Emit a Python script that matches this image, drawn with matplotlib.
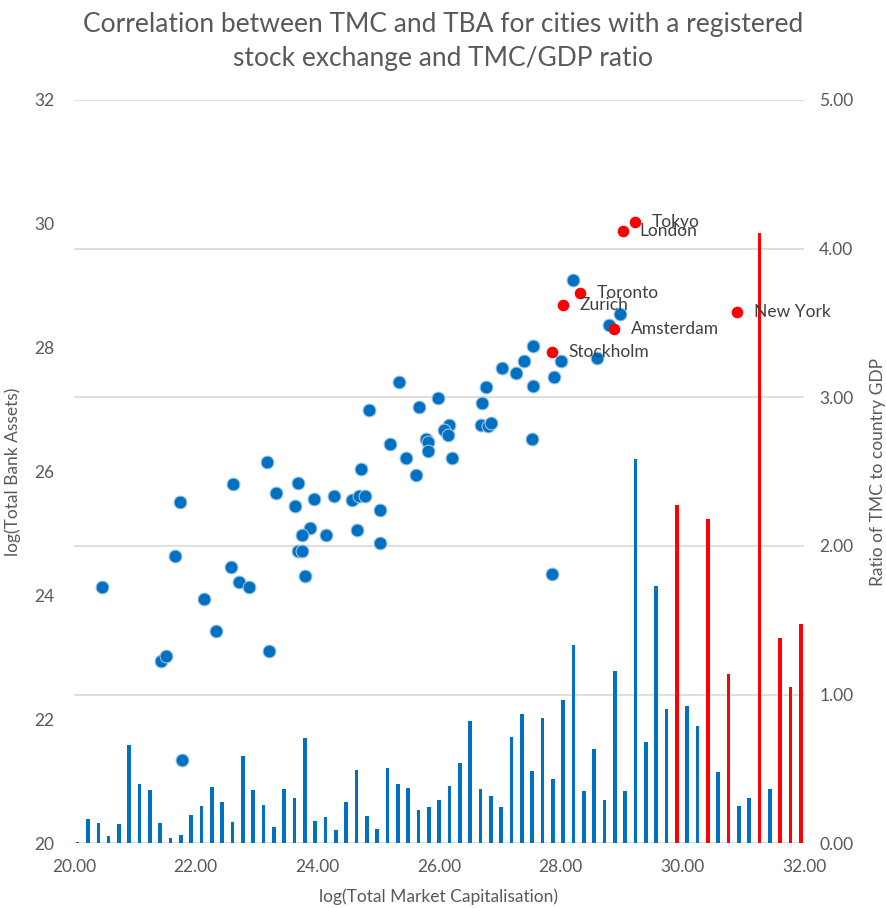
import matplotlib
matplotlib.use("Agg")
import matplotlib.pyplot as plt

plt.rcParams['font.family'] = ['Lato', 'DejaVu Sans']

# scatter: log(TMC) vs log(TBA)
blue_tmc = [28.21, 28.97, 28.80, 27.54, 28.01, 28.60, 27.39, 27.03, 27.27, 27.89,
            27.54, 26.78, 25.35, 25.98, 26.70, 24.85, 25.67, 26.16, 26.08, 26.15,
            25.79, 25.82, 25.19, 25.82, 25.46, 26.21, 24.72, 25.63, 26.69, 26.81,
            26.86, 27.53, 23.17, 22.61, 23.68, 21.75, 23.32, 23.64, 23.95, 24.27,
            24.57, 24.69, 24.79, 25.03, 23.88, 23.75, 24.15, 24.66, 25.03, 23.68,
            23.75, 21.66, 22.58, 22.72, 22.87, 23.80, 20.46, 22.13, 22.34, 23.21,
            21.43, 21.51, 21.77, 27.86]
blue_tba = [29.09, 28.54, 28.36, 28.03, 27.79, 27.83, 27.79, 27.68, 27.59, 27.52,
            27.38, 27.37, 27.44, 27.19, 27.11, 27.00, 27.05, 26.76, 26.67, 26.59,
            26.53, 26.48, 26.45, 26.33, 26.22, 26.22, 26.05, 25.95, 26.76, 26.74,
            26.78, 26.53, 26.16, 25.80, 25.81, 25.51, 25.65, 25.45, 25.56, 25.61,
            25.54, 25.61, 25.61, 25.38, 25.09, 24.98, 24.98, 25.05, 24.84, 24.72,
            24.72, 24.63, 24.46, 24.22, 24.13, 24.31, 24.14, 23.94, 23.43, 23.11,
            22.94, 23.02, 21.34, 24.35]

red_names = ["Tokyo", "London", "Toronto", "Zurich", "New York", "Amsterdam", "Stockholm"]
red_tmc = [29.22, 29.02, 28.32, 28.04, 30.90, 28.88, 27.86]
red_tba = [30.03, 29.88, 28.89, 28.69, 28.57, 28.31, 27.93]

# bars: ratio of TMC to country GDP, one per city
ratio = [0.01, 0.16, 0.135, 0.05, 0.13, 0.66, 0.40, 0.36, 0.137, 0.036,
         0.054, 0.19, 0.25, 0.377, 0.276, 0.14, 0.585, 0.357, 0.258, 0.11,
         0.365, 0.307, 0.709, 0.148, 0.177, 0.087, 0.278, 0.495, 0.184, 0.096,
         0.507, 0.399, 0.372, 0.226, 0.246, 0.293, 0.383, 0.54, 0.825, 0.363,
         0.316, 0.244, 0.715, 0.87, 0.486, 0.845, 0.433, 0.962, 1.332, 0.35,
         0.635, 0.289, 1.157, 0.35, 2.588, 0.682, 1.729, 0.904, 2.274, 0.926,
         0.791, 2.182, 0.48, 1.137, 0.249, 0.305, 4.107, 0.363, 1.38, 1.052,
         1.474]
highlighted = [58, 61, 63, 66, 68, 69, 70]

BLUE = "#0070C0"
RED = "#FF0000"
GREY = "#595959"

fig = plt.figure(figsize=(8.87, 9.08), dpi=100)
rect = [0.0834, 0.0713, 0.8230, 0.8186]

# bottom layer: gridlines and bars on the secondary axis
ax_bar = fig.add_axes(rect)
bar_colors = [RED if i in highlighted else BLUE for i in range(len(ratio))]
ax_bar.bar(range(len(ratio)), ratio, width=0.34, color=bar_colors, zorder=3)
ax_bar.set_xlim(-0.35, len(ratio) - 0.7)
ax_bar.set_ylim(0, 5)
ax_bar.set_yticks([0, 1, 2, 3, 4, 5])
ax_bar.set_yticklabels([f"{v:.2f}" for v in range(6)])
ax_bar.yaxis.tick_right()
ax_bar.yaxis.set_label_position("right")
ax_bar.set_xticks([])
ax_bar.grid(True, axis='y', color="#D9D9D9", linewidth=1.2, zorder=0)
ax_bar.tick_params(axis='y', length=0, pad=11, labelsize=12.5, labelcolor=GREY)
for s in ax_bar.spines.values():
    s.set_visible(False)
ax_bar.set_ylabel("Ratio of TMC to country GDP", fontsize=12.5, color=GREY, labelpad=12)

# top layer: scatter
ax = fig.add_axes(rect)
ax.patch.set_alpha(0)
ax.scatter(blue_tmc, blue_tba, s=85, color=BLUE, edgecolors="#9DC3E6", linewidths=0.8, zorder=3)
ax.scatter(red_tmc, red_tba, s=70, color=RED, linewidths=0, zorder=4)
for name, x, y in zip(red_names, red_tmc, red_tba):
    ax.annotate(name, (x, y), xytext=(12, 0), textcoords="offset points",
                va='center', ha='left', fontsize=12.5, color="#404040", zorder=5)

ax.set_xlim(20, 32)
ax.set_ylim(20, 32)
ax.set_xticks([20, 22, 24, 26, 28, 30, 32])
ax.set_xticklabels([f"{v:.2f}" for v in [20, 22, 24, 26, 28, 30, 32]])
ax.set_yticks([20, 22, 24, 26, 28, 30, 32])
ax.tick_params(length=0, labelsize=12.5, labelcolor=GREY)
ax.tick_params(axis='x', pad=11)
ax.tick_params(axis='y', pad=14)
for s in ax.spines.values():
    s.set_visible(False)
ax.set_xlabel("log(Total Market Capitalisation)", fontsize=12.5, color=GREY, labelpad=10)
ax.set_ylabel("log(Total Bank Assets)", fontsize=12.5, color=GREY, labelpad=10)

fig.suptitle("Correlation between TMC and TBA for cities with a registered\nstock exchange and TMC/GDP ratio",
             fontsize=19, color=GREY, y=0.987, linespacing=1.45)

fig.savefig("out.png", dpi=100)
